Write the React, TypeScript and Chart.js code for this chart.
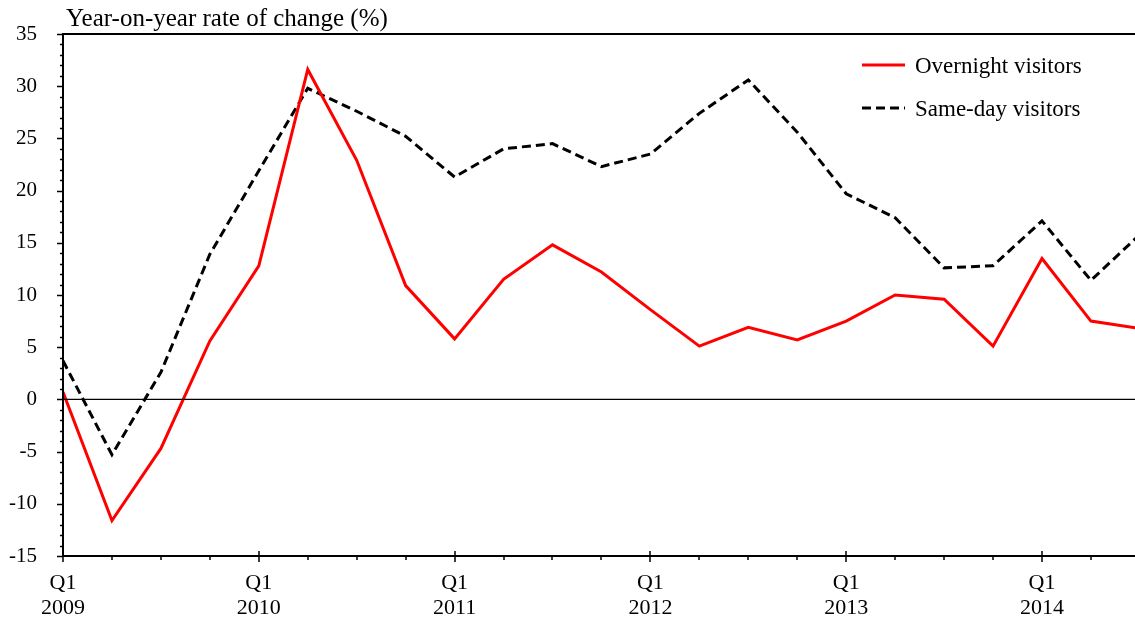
import { useEffect, useRef } from 'react';
import { Chart, registerables } from 'chart.js';

Chart.register(...registerables);

const overnight = [0.7, -11.6, -4.7, 5.6, 12.8, 31.6, 22.9, 10.9, 5.8, 11.5, 14.8, 12.2, 8.6, 5.1, 6.9, 5.7, 7.5, 10.0, 9.6, 5.1, 13.5, 7.5, 6.8];
const sameDay = [3.7, -5.3, 2.6, 13.9, 21.9, 29.8, 27.6, 25.2, 21.3, 24.0, 24.5, 22.3, 23.5, 27.4, 30.6, 25.6, 19.7, 17.4, 12.6, 12.8, 17.1, 11.4, 15.8];
const tickYears = [2009, 2010, 2011, 2012, 2013, 2014];
const seriesNames = ['Overnight visitors', 'Same-day visitors'];
const yTitle = 'Year-on-year rate of change (%)';

const FONT = '"Liberation Serif", "Times New Roman", serif';

const framePlugin = {
  id: 'frame',
  afterDraw(chart: any) {
    const { ctx, chartArea } = chart;
    const xs = chart.scales.x;
    const ys = chart.scales.y;
    const { left, right, top, bottom } = chartArea;
    ctx.save();
    ctx.strokeStyle = '#000';
    ctx.fillStyle = '#000';
    // zero line
    ctx.lineWidth = 1.2;
    const y0 = ys.getPixelForValue(0);
    ctx.beginPath();
    ctx.moveTo(left, y0);
    ctx.lineTo(right, y0);
    ctx.stroke();
    // frame lines
    ctx.lineWidth = 2;
    ctx.beginPath();
    ctx.moveTo(left, top);
    ctx.lineTo(right, top);
    ctx.moveTo(left, top - 1);
    ctx.lineTo(left, bottom + 1);
    ctx.moveTo(left - 1, bottom);
    ctx.lineTo(right, bottom);
    ctx.stroke();
    // y ticks
    ctx.lineWidth = 1.5;
    ctx.beginPath();
    for (let v = ys.min; v <= ys.max; v += 1) {
      const p = Math.round(ys.getPixelForValue(v)) + 0.5;
      const len = v % 5 === 0 ? 6 : 3;
      ctx.moveTo(left - len, p);
      ctx.lineTo(left, p);
    }
    // x ticks
    for (let q = 0; q <= Math.floor(xs.max); q++) {
      const p = Math.round(xs.getPixelForValue(q));
      if (q % 4 === 0) {
        ctx.moveTo(p, bottom - 5);
        ctx.lineTo(p, bottom + 6);
      } else {
        ctx.moveTo(p, bottom);
        ctx.lineTo(p, bottom + 4);
      }
    }
    ctx.stroke();
    // title
    ctx.font = `25px ${FONT}`;
    ctx.textAlign = 'left';
    ctx.textBaseline = 'alphabetic';
    ctx.fillText(yTitle, 66, 26);
    // legend
    const items = chart.data.datasets;
    const legendY = [65, 108];
    items.forEach((ds: any, i: number) => {
      const y = legendY[i];
      ctx.save();
      ctx.strokeStyle = ds.borderColor;
      ctx.lineWidth = ds.borderWidth;
      ctx.setLineDash(ds.borderDash || []);
      ctx.beginPath();
      ctx.moveTo(862, y);
      ctx.lineTo(905, y);
      ctx.stroke();
      ctx.restore();
      ctx.font = `23px ${FONT}`;
      ctx.textBaseline = 'alphabetic';
      ctx.fillText(seriesNames[i], 915, y + 8);
    });
    ctx.restore();
  },
};

export default function App() {
  const ref = useRef<HTMLCanvasElement>(null);
  useEffect(() => {
    const toPoints = (arr: number[]) => arr.map((v, i) => ({ x: i, y: v }));
    const chart = new Chart(ref.current as HTMLCanvasElement, {
      type: 'line',
      data: {
        datasets: [
          {
            label: seriesNames[0],
            data: toPoints(overnight),
            borderColor: '#ff0000',
            borderWidth: 3,
            pointRadius: 0,
            tension: 0,
            fill: false,
          },
          {
            label: seriesNames[1],
            data: toPoints(sameDay),
            borderColor: '#000000',
            borderWidth: 3,
            borderDash: [9, 5],
            pointRadius: 0,
            tension: 0,
            fill: false,
          },
        ],
      },
      options: {
        animation: false,
        responsive: false,
        layout: { padding: { top: 34, right: 0, left: 0, bottom: 0 } },
        plugins: { legend: { display: false }, tooltip: { enabled: false }, title: { display: false } },
        scales: {
          x: {
            type: 'linear',
            min: 0,
            max: 21.9,
            grid: { display: false, drawTicks: false },
            border: { display: false },
            afterBuildTicks: (s: any) => {
              s.ticks = tickYears.map((yr) => ({ value: (yr - tickYears[0]) * 4 }));
            },
            afterFit: (s: any) => {
              s.height = 67;
              s.paddingLeft = 0;
              s.paddingRight = 0;
            },
            ticks: {
              autoSkip: false,
              maxRotation: 0,
              minRotation: 0,
              padding: 15,
              color: '#000',
              font: { family: FONT, size: 22, lineHeight: 1.14 },
              callback: (v: any) => ['Q1', String(tickYears[0] + Math.round(Number(v) / 4))],
            },
          },
          y: {
            min: -15,
            max: 35,
            grid: { display: false, drawTicks: false },
            border: { display: false },
            afterFit: (s: any) => {
              s.width = 63;
              s.paddingTop = 0;
              s.paddingBottom = 0;
            },
            ticks: {
              stepSize: 5,
              padding: 26,
              color: '#000',
              font: { family: FONT, size: 21 },
            },
          },
        },
      },
      plugins: [framePlugin],
    });
    return () => chart.destroy();
  }, []);
  return (
    <div style={{ position: 'fixed', left: 0, top: 0, width: 1135, height: 623, background: '#fff' }}>
      <canvas ref={ref} width={1135} height={623} style={{ display: 'block', width: 1135, height: 623 }} />
    </div>
  );
}
